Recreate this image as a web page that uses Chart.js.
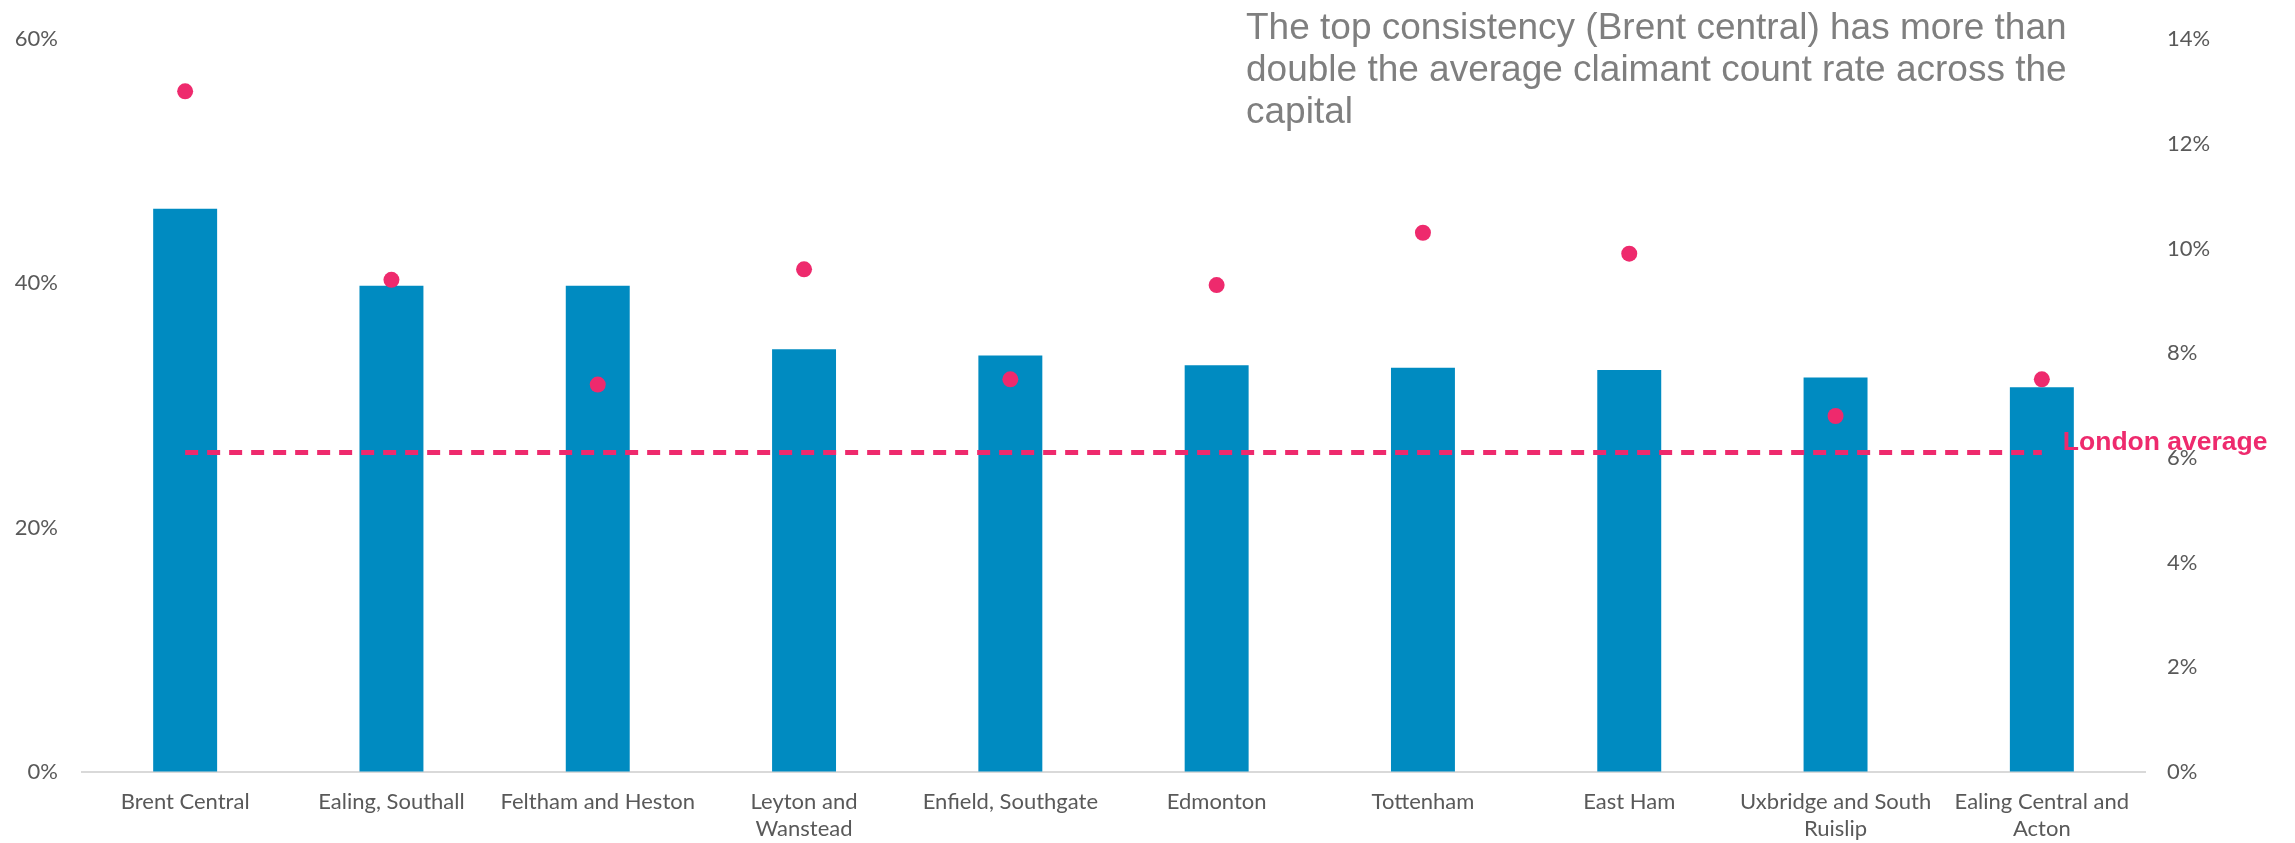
<!DOCTYPE html>
<html>
<head>
<meta charset="utf-8">
<script src="https://cdn.jsdelivr.net/npm/chart.js@4.4.1/dist/chart.umd.min.js"></script>
<style>
    html, body { margin: 0; padding: 0; background: #fff; }
    #wrap { width: 2295px; height: 843px; position: relative; }
</style>
</head>
<body>
<div id="wrap"><canvas id="chart"></canvas></div>
<script>
// constituencies, left axis = bar share (%), right axis = claimant count rate (%)
const CATEGORIES = [
    'Brent Central',
    'Ealing, Southall',
    'Feltham and Heston',
    ['Leyton and', 'Wanstead'],
    'Enfield, Southgate',
    'Edmonton',
    'Tottenham',
    'East Ham',
    ['Uxbridge and South', 'Ruislip'],
    ['Ealing Central and', 'Acton'],
];
const BAR_SHARE      = [46.1, 39.8, 39.8, 34.6, 34.1, 33.3, 33.1, 32.9, 32.3, 31.5];
const CLAIMANT_RATE  = [13.0, 9.4, 7.4, 9.6, 7.5, 9.3, 10.3, 9.9, 6.8, 7.5];
const LONDON_AVERAGE = [6.1, 6.1, 6.1, 6.1, 6.1, 6.1, 6.1, 6.1, 6.1, 6.1];
const LONDON_LABEL   = 'London average';
const NOTE_LINES = [
    'The top consistency (Brent central) has more than',
    'double the average claimant count rate across the',
    'capital',
];

const BLUE = '#008bc1';
const PINK = '#ee2a6d';
const TICK_GREY = '#595959';
const TICK_FONT = { family: 'Lato', size: 22 };

// text overlays: note in the top right and the label next to the dashed line
const overlay = {
    id: 'overlay',
    afterDraw(chart) {
        const { ctx, scales } = chart;
        ctx.save();
        ctx.fillStyle = '#7f7f7f';
        ctx.font = '37px "Liberation Sans", Arial, sans-serif';
        ctx.textBaseline = 'alphabetic';
        ctx.textAlign = 'left';
        NOTE_LINES.forEach((t, i) => ctx.fillText(t, 1246, 39 + i * 42));

        const last = LONDON_AVERAGE.length - 1;
        const x = scales.x.getPixelForValue(last) + 21;
        const y = scales.y1.getPixelForValue(LONDON_AVERAGE[last]) - 10;
        ctx.fillStyle = PINK;
        ctx.font = 'bold 26.5px "Liberation Sans", Arial, sans-serif';
        ctx.textBaseline = 'middle';
        ctx.fillText(LONDON_LABEL, x, y);
        ctx.restore();
    },
};

new Chart(document.getElementById('chart'), {
    data: {
        labels: CATEGORIES,
        datasets: [
            {
                type: 'line',
                label: 'Claimant count rate',
                data: CLAIMANT_RATE,
                yAxisID: 'y1',
                showLine: false,
                pointRadius: 8,
                pointHoverRadius: 8,
                pointBackgroundColor: PINK,
                pointBorderWidth: 0,
                order: 1,
            },
            {
                type: 'line',
                label: LONDON_LABEL,
                data: LONDON_AVERAGE,
                yAxisID: 'y1',
                borderColor: PINK,
                borderWidth: 5,
                borderDash: [13, 9],
                pointRadius: 0,
                fill: false,
                order: 2,
            },
            {
                type: 'bar',
                label: 'Share',
                data: BAR_SHARE,
                yAxisID: 'y',
                backgroundColor: BLUE,
                borderWidth: 0,
                categoryPercentage: 1,
                barPercentage: 0.31,
                order: 3,
            },
        ],
    },
    options: {
        responsive: true,
        maintainAspectRatio: false,
        animation: false,
        layout: { padding: { top: 39, left: 0, right: 0, bottom: 0 } },
        plugins: {
            legend: { display: false },
            tooltip: { enabled: false },
        },
        scales: {
            x: {
                offset: true,
                grid: { drawOnChartArea: false, drawTicks: false, color: 'transparent' },
                border: { display: true, color: '#d9d9d9', width: 2 },
                ticks: { color: TICK_GREY, font: TICK_FONT, padding: 17, maxRotation: 0, autoSkip: false },
                afterFit: s => { s.height = 71; },
            },
            y: {
                position: 'left',
                min: 0, max: 60,
                grid: { drawOnChartArea: false, drawTicks: false, color: 'transparent' },
                border: { display: false },
                ticks: { stepSize: 20, color: TICK_GREY, font: TICK_FONT, padding: 24, callback: v => v + '%' },
                afterFit: s => { s.width = 82; },
            },
            y1: {
                position: 'right',
                min: 0, max: 14,
                grid: { drawOnChartArea: false, drawTicks: false, color: 'transparent' },
                border: { display: false },
                ticks: { stepSize: 2, color: TICK_GREY, font: TICK_FONT, padding: 22, callback: v => v + '%' },
                afterFit: s => { s.width = 150; },
            },
        },
    },
    plugins: [overlay],
});
</script>
</body>
</html>
